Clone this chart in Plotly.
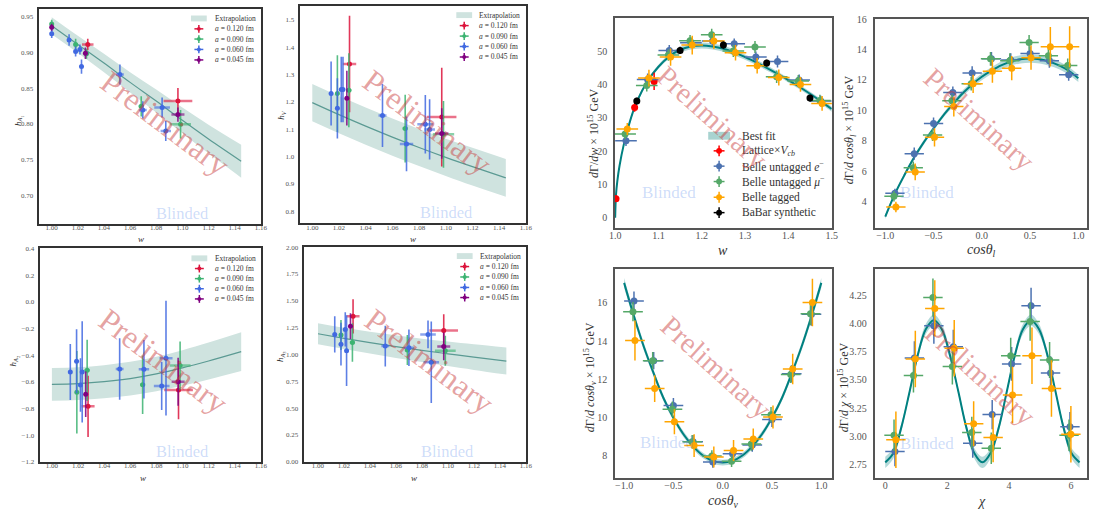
import plotly.graph_objects as go

W, H = 1094, 518
SERIF = "Liberation Serif"

# ================= Lattice form factors (left block) =================
curve_w = [1.00, 1.02, 1.04, 1.06, 1.08, 1.10, 1.12, 1.145]

# ---- h_A1 ----
hA1_fit = [0.937, 0.911, 0.885, 0.858, 0.832, 0.805, 0.779, 0.748]
hA1_fit_err = [0.012, 0.012, 0.013, 0.014, 0.016, 0.018, 0.020, 0.023]
hA1_a120_w = [1.0276, 1.0966]
hA1_a120_y = [0.911, 0.832]
hA1_a120_dy = [0.008, 0.018]
hA1_a120_dw = [0.0044, 0.011]
hA1_a090_w = [1.000, 1.0183, 1.0266, 1.0685, 1.0986]
hA1_a090_y = [0.9395, 0.911, 0.898, 0.8245, 0.7995]
hA1_a090_dy = [0.006, 0.008, 0.007, 0.014, 0.020]
hA1_a090_dw = [0.0, 0.001, 0.002, 0.002, 0.008]
hA1_a060_w = [1.000, 1.0133, 1.0183, 1.0216, 1.0228, 1.0522, 1.0697, 1.0845, 1.0873]
hA1_a060_y = [0.926, 0.917, 0.901, 0.904, 0.880, 0.869, 0.8195, 0.823, 0.790]
hA1_a060_dy = [0.006, 0.008, 0.007, 0.007, 0.010, 0.014, 0.012, 0.014, 0.014]
hA1_a060_dw = [0.0, 0.001, 0.001, 0.001, 0.001, 0.003, 0.003, 0.006, 0.004]
hA1_a045_w = [1.000, 1.0258, 1.0966]
hA1_a045_y = [0.935, 0.8985, 0.813]
hA1_a045_dy = [0.005, 0.008, 0.010]
hA1_a045_dw = [0.0, 0.001, 0.005]

# ---- h_V ----
hV_fit = [1.197, 1.153, 1.111, 1.071, 1.033, 0.997, 0.963, 0.922]
hV_fit_err = [0.068, 0.068, 0.068, 0.068, 0.068, 0.068, 0.069, 0.069]
hV_a120_w = [1.0279, 1.097]
hV_a120_y = [1.338, 1.144]
hV_a120_dy = [0.176, 0.180]
hV_a120_dw = [0.005, 0.011]
hV_a090_w = [1.0188, 1.0274, 1.0696, 1.0983]
hV_a090_y = [1.230, 1.242, 1.102, 1.081]
hV_a090_dy = [0.140, 0.135, 0.124, 0.122]
hV_a090_dw = [0.001, 0.002, 0.002, 0.008]
hV_a060_w = [1.0141, 1.0188, 1.0217, 1.0230, 1.0526, 1.0706, 1.0847, 1.0879]
hV_a060_y = [1.230, 1.176, 1.245, 1.245, 1.150, 1.046, 1.118, 1.099]
hV_a060_dy = [0.117, 0.110, 0.120, 0.120, 0.115, 0.100, 0.107, 0.110]
hV_a060_dw = [0.001, 0.001, 0.001, 0.001, 0.003, 0.005, 0.006, 0.004]
hV_a045_w = [1.0259, 1.097]
hV_a045_y = [1.213, 1.084]
hV_a045_dy = [0.100, 0.092]
hV_a045_dw = [0.001, 0.005]

# ---- h_A2 ----
hA2_fit = [-0.618, -0.612, -0.598, -0.575, -0.540, -0.495, -0.443, -0.373]
hA2_fit_err = [0.123, 0.123, 0.124, 0.126, 0.129, 0.133, 0.138, 0.145]
hA2_a120_w = [1.0277, 1.097]
hA2_a120_y = [-0.783, -0.660]
hA2_a120_dy = [0.23, 0.22]
hA2_a120_dw = [0.005, 0.011]
hA2_a090_w = [1.0191, 1.0270, 1.0695, 1.0982]
hA2_a090_y = [-0.677, -0.513, -0.621, -0.476]
hA2_a090_dy = [0.31, 0.23, 0.22, 0.18]
hA2_a090_dw = [0.001, 0.002, 0.002, 0.008]
hA2_a060_w = [1.0141, 1.0189, 1.0219, 1.0232, 1.0519, 1.0705, 1.0841, 1.0874]
hA2_a060_y = [-0.525, -0.444, -0.623, -0.525, -0.503, -0.505, -0.631, -0.422]
hA2_a060_dy = [0.21, 0.24, 0.20, 0.38, 0.23, 0.22, 0.18, 0.43]
hA2_a060_dw = [0.001, 0.001, 0.001, 0.001, 0.003, 0.004, 0.006, 0.005]
hA2_a045_w = [1.0259, 1.0967]
hA2_a045_y = [-0.692, -0.599]
hA2_a045_dy = [0.17, 0.18]
hA2_a045_dw = [0.001, 0.005]

# ---- h_A3 ----
hA3_fit = [1.193, 1.150, 1.110, 1.073, 1.038, 1.006, 0.975, 0.938]
hA3_fit_err = [0.099, 0.100, 0.102, 0.105, 0.109, 0.114, 0.119, 0.126]
hA3_a120_w = [1.027, 1.0968]
hA3_a120_y = [1.355, 1.224]
hA3_a120_dy = [0.16, 0.15]
hA3_a120_dw = [0.005, 0.011]
hA3_a090_w = [1.0177, 1.0265, 1.0688, 1.098]
hA3_a090_y = [1.181, 1.111, 1.041, 1.035]
hA3_a090_dy = [0.14, 0.18, 0.14, 0.14]
hA3_a090_dw = [0.001, 0.002, 0.002, 0.008]
hA3_a060_w = [1.0129, 1.0177, 1.021, 1.022, 1.0518, 1.070, 1.0847, 1.0872]
hA3_a060_y = [1.187, 1.096, 1.233, 1.035, 1.078, 1.062, 1.187, 0.928]
hA3_a060_dy = [0.17, 0.20, 0.16, 0.33, 0.19, 0.17, 0.13, 0.38]
hA3_a060_dw = [0.001, 0.001, 0.001, 0.001, 0.003, 0.004, 0.006, 0.006]
hA3_a045_w = [1.025, 1.0968]
hA3_a045_y = [1.263, 1.075]
hA3_a045_dy = [0.12, 0.13]
hA3_a045_dw = [0.001, 0.005]

lat_names = ["<i>a</i> = 0.120 fm", "<i>a</i> = 0.090 fm", "<i>a</i> = 0.060 fm", "<i>a</i> = 0.045 fm"]
lat_colors = ["#dc143c", "#3cb371", "#4169e1", "#800080"]

# ================= Differential decay rates (right block) =================
w_fit = [1.0, 1.002, 1.005, 1.01, 1.02, 1.03, 1.04, 1.05, 1.075, 1.1, 1.125, 1.15, 1.175,
         1.2, 1.225, 1.25, 1.275, 1.3, 1.325, 1.35, 1.375, 1.4, 1.425, 1.45, 1.475, 1.5]
dGdw_fit = [0.0, 7.0, 11.0, 15.5, 22.0, 27.0, 31.3, 34.8, 41.0, 45.3, 48.4, 50.4, 51.4,
            51.7, 51.4, 50.7, 49.6, 48.2, 46.7, 45.0, 43.2, 41.3, 39.3, 37.2, 35.0, 32.6]
dGdw_fit_err = [0.0, 0.3, 0.4, 0.5, 0.6, 0.6, 0.6, 0.6, 0.6, 0.6, 0.7, 0.8, 0.9,
                0.9, 0.9, 0.9, 0.9, 0.8, 0.8, 0.8, 0.7, 0.7, 0.7, 0.7, 0.7, 0.8]
w_e = [1.025, 1.075, 1.125, 1.175, 1.225, 1.275, 1.325, 1.375, 1.425, 1.475]
w_mu = [1.023, 1.073, 1.123, 1.173, 1.223, 1.273, 1.323, 1.373, 1.423, 1.473]
w_tag = [1.028, 1.078, 1.128, 1.178, 1.228, 1.278, 1.328, 1.378, 1.428, 1.478]
w_binhalf = [0.025] * 10
dGdw_e = [23.1, 41.5, 50.2, 52.5, 53.0, 52.2, 48.2, 46.9, 41.3, 35.0]
dGdw_e_err = [1.6, 1.8, 1.6, 1.5, 1.5, 1.6, 1.7, 1.8, 1.7, 1.6]
dGdw_mu = [25.1, 39.7, 48.8, 53.1, 54.9, 50.0, 51.2, 42.3, 41.0, 35.2]
dGdw_mu_err = [1.6, 1.8, 1.7, 1.7, 1.8, 1.8, 1.8, 1.9, 1.8, 1.7]
dGdw_tag = [26.6, 41.9, 48.2, 51.8, 53.0, 49.5, 45.6, 42.1, 40.0, 34.3]
dGdw_tag_err = [1.8, 2.5, 2.6, 2.8, 2.4, 2.3, 2.3, 2.4, 2.2, 2.2]
w_lat = [1.002, 1.045, 1.09]
dGdw_lat = [5.7, 33.1, 40.9]
dGdw_lat_err = [1.0, 1.3, 2.6]
w_babar = [1.05, 1.15, 1.25, 1.35, 1.45]
dGdw_babar = [35.0, 50.2, 51.8, 46.4, 35.9]
dGdw_babar_err = [1.0, 1.1, 1.1, 1.0, 1.0]

cos_fit = [-1.0, -0.9, -0.8, -0.7, -0.6, -0.5, -0.4, -0.3, -0.2, -0.1, 0.0,
           0.1, 0.2, 0.3, 0.4, 0.5, 0.6, 0.7, 0.8, 0.9, 1.0]
cos_e = [-0.9, -0.7, -0.5, -0.3, -0.1, 0.1, 0.3, 0.5, 0.7, 0.9]
cos_mu = [-0.91, -0.71, -0.51, -0.31, -0.11, 0.09, 0.29, 0.49, 0.69, 0.89]
cos_tag = [-0.89, -0.69, -0.49, -0.29, -0.09, 0.11, 0.31, 0.51, 0.71, 0.91]
cos_binhalf = [0.1] * 10

dGdcl_fit = [3.0, 4.5, 5.75, 6.9, 7.9, 8.8, 9.65, 10.4, 11.1, 11.7, 12.2,
             12.6, 12.95, 13.2, 13.35, 13.4, 13.35, 13.2, 12.95, 12.6, 12.1]
dGdcl_fit_err = [0.15, 0.15, 0.15, 0.15, 0.15, 0.15, 0.15, 0.18, 0.2, 0.2, 0.22,
                 0.22, 0.25, 0.27, 0.27, 0.27, 0.27, 0.27, 0.25, 0.25, 0.25]
dGdcl_e = [4.54, 7.14, 9.12, 11.16, 12.45, 13.38, 13.30, 13.74, 13.25, 12.34]
dGdcl_e_err = [0.30, 0.40, 0.40, 0.40, 0.45, 0.45, 0.45, 0.45, 0.45, 0.40]
dGdcl_mu = [4.34, 6.22, 8.37, 10.62, 11.74, 13.38, 13.25, 14.45, 13.59, 12.95]
dGdcl_mu_err = [0.35, 0.40, 0.40, 0.40, 0.45, 0.45, 0.50, 0.50, 0.45, 0.45]
dGdcl_tag = [3.63, 5.94, 8.22, 10.24, 11.74, 12.56, 12.77, 13.46, 14.17, 14.17]
dGdcl_tag_err = [0.35, 0.55, 0.60, 0.65, 0.60, 0.75, 0.80, 0.80, 1.30, 1.35]

dGdcv_fit = [17.05, 15.3, 13.7, 12.3, 11.0, 9.98, 9.13, 8.48, 8.0, 7.72, 7.63,
             7.72, 8.0, 8.48, 9.13, 9.98, 11.0, 12.3, 13.7, 15.3, 17.05]
dGdcv_fit_err = [0.25, 0.22, 0.2, 0.18, 0.16, 0.15, 0.15, 0.15, 0.15, 0.15, 0.15,
                 0.15, 0.15, 0.15, 0.15, 0.15, 0.16, 0.18, 0.2, 0.22, 0.25]
dGdcv_e = [16.10, 12.97, 10.62, 8.72, 7.66, 8.09, 8.55, 9.89, 12.28, 15.40]
dGdcv_e_err = [0.50, 0.45, 0.40, 0.35, 0.30, 0.30, 0.35, 0.40, 0.45, 0.60]
dGdcv_mu = [15.54, 12.97, 10.43, 8.72, 7.97, 7.70, 8.60, 10.14, 12.25, 15.43]
dGdcv_mu_err = [0.50, 0.45, 0.40, 0.35, 0.30, 0.30, 0.35, 0.40, 0.45, 0.60]
dGdcv_tag = [14.03, 11.51, 9.77, 8.52, 7.92, 8.26, 8.86, 10.02, 12.54, 16.02]
dGdcv_tag_err = [1.05, 0.70, 0.65, 0.60, 0.55, 0.55, 0.55, 0.60, 0.80, 1.25]

chi_fit = [0.0, 0.26, 0.52, 0.79, 1.05, 1.31, 1.57, 1.83, 2.09, 2.36, 2.62, 2.88, 3.14,
           3.40, 3.67, 3.93, 4.19, 4.45, 4.71, 4.97, 5.24, 5.50, 5.76, 6.02, 6.28]
dGdchi_fit = [2.77, 2.85, 3.08, 3.40, 3.72, 3.95, 4.03, 3.95, 3.72, 3.40, 3.08, 2.85, 2.77,
              2.85, 3.08, 3.40, 3.72, 3.95, 4.03, 3.95, 3.72, 3.40, 3.08, 2.85, 2.77]
dGdchi_fit_err = [0.05, 0.045, 0.035, 0.025, 0.035, 0.045, 0.05, 0.045, 0.035, 0.025, 0.035, 0.045, 0.05,
                  0.045, 0.035, 0.025, 0.035, 0.045, 0.05, 0.045, 0.035, 0.025, 0.035, 0.045, 0.05]
chi_e = [0.314, 0.942, 1.571, 2.199, 2.827, 3.456, 4.084, 4.712, 5.341, 5.969]
chi_mu = [0.284, 0.912, 1.541, 2.169, 2.797, 3.426, 4.054, 4.682, 5.311, 5.939]
chi_tag = [0.344, 0.972, 1.601, 2.229, 2.857, 3.486, 4.114, 4.742, 5.371, 5.999]
chi_binhalf = [0.314] * 10
dGdchi_e = [2.866, 3.694, 3.980, 3.795, 2.940, 3.193, 3.642, 4.157, 3.561, 3.086]
dGdchi_e_err = [0.13, 0.15, 0.16, 0.15, 0.13, 0.13, 0.15, 0.16, 0.15, 0.13]
dGdchi_mu = [3.010, 3.540, 4.230, 3.619, 3.034, 2.895, 3.714, 4.018, 3.677, 3.010]
dGdchi_mu_err = [0.14, 0.15, 0.17, 0.16, 0.14, 0.14, 0.16, 0.17, 0.16, 0.14]
dGdchi_tag = [2.970, 3.685, 4.134, 3.781, 3.112, 2.990, 3.367, 3.714, 3.425, 3.019]
dGdchi_tag_err = [0.25, 0.25, 0.25, 0.25, 0.20, 0.22, 0.25, 0.25, 0.25, 0.25]

C_E, C_MU, C_TAG, C_LAT, C_BAB = "#4c72b0", "#55a868", "#ffa500", "#ff0000", "#000000"
FIT_LINE = "#008080"
FIT_BAND = "rgba(0,128,128,0.30)"
EXT_BAND = "#cfe3df"
EXT_LINE = "#5b9a93"

fig = go.Figure()


def rgba(hexc, a):
    h = hexc.lstrip("#")
    return "rgba(%d,%d,%d,%s)" % (int(h[0:2], 16), int(h[2:4], 16), int(h[4:6], 16), a)


def ids(k):
    s = "" if k == 1 else str(k)
    return "x" + s, "y" + s


def add_band(k, x, c, e, fill, line, lw):
    xa, ya = ids(k)
    lo = [a - b for a, b in zip(c, e)]
    hi = [a + b for a, b in zip(c, e)]
    fig.add_trace(go.Scatter(x=x, y=lo, mode="lines", line=dict(width=0, shape="spline"),
                             xaxis=xa, yaxis=ya, hoverinfo="skip", showlegend=False))
    fig.add_trace(go.Scatter(x=x, y=hi, mode="lines", line=dict(width=0, shape="spline"),
                             fill="tonexty", fillcolor=fill, xaxis=xa, yaxis=ya,
                             hoverinfo="skip", showlegend=False))
    fig.add_trace(go.Scatter(x=x, y=c, mode="lines", line=dict(color=line, width=lw, shape="spline"),
                             xaxis=xa, yaxis=ya, showlegend=False))


def add_pts(k, x, y, dy, dx, color, size, ylw, xlw, xal, yal=1.0):
    xa, ya = ids(k)
    fig.add_trace(go.Scatter(
        x=x, y=y, mode="markers", marker=dict(color=color, size=size, line=dict(width=0)),
        error_y=dict(type="data", array=dy, color=rgba(color, yal), thickness=ylw, width=0),
        error_x=dict(type="data", array=dx, color=rgba(color, xal), thickness=xlw, width=0),
        xaxis=xa, yaxis=ya, showlegend=False))


def setup(k, xpx, ypx, xr, yr, x0, xdt, xfmt, y0, ydt, yfmt, fs, lc, lw, xs, ys):
    s = "" if k == 1 else str(k)
    common = dict(showgrid=False, zeroline=False, showline=True, mirror=True, linecolor=lc,
                  linewidth=lw, ticks="", tickfont=dict(family=SERIF, size=fs, color="#555555"))
    fig.update_layout(**{
        "xaxis" + s: dict(domain=[xpx[0] / W, xpx[1] / W], range=xr, anchor="y" + s, tick0=x0,
                          dtick=xdt, tickformat=xfmt, ticklabelstandoff=xs, **common),
        "yaxis" + s: dict(domain=[1 - ypx[1] / H, 1 - ypx[0] / H], range=yr, anchor="x" + s,
                          tick0=y0, dtick=ydt, tickformat=yfmt, ticklabelstandoff=ys, **common),
    })


def text(xp, yp, t, size, color="#333333", angle=0, xanchor="center", yanchor="middle"):
    fig.add_annotation(x=xp / W, y=1 - yp / H, xref="paper", yref="paper", text=t, showarrow=False,
                       textangle=angle, xanchor=xanchor, yanchor=yanchor,
                       font=dict(family=SERIF, size=size, color=color))


def shape_line(x0, y0, x1, y1, color, w):
    fig.add_shape(type="line", xref="paper", yref="paper", x0=x0 / W, y0=1 - y0 / H,
                  x1=x1 / W, y1=1 - y1 / H, line=dict(color=color, width=w))


def legend(entries, gx, tx, rows, pw, ph, gw, gh, r, fs, lw):
    for (lab, kind, col), ry in zip(entries, rows):
        if kind == "patch":
            fig.add_shape(type="rect", xref="paper", yref="paper", x0=(gx - pw / 2) / W,
                          x1=(gx + pw / 2) / W, y0=1 - (ry + ph / 2) / H, y1=1 - (ry - ph / 2) / H,
                          fillcolor=col, line=dict(width=0))
        else:
            shape_line(gx - gw / 2, ry, gx + gw / 2, ry, col, lw)
            shape_line(gx, ry - gh / 2, gx, ry + gh / 2, col, lw)
            fig.add_shape(type="circle", xref="paper", yref="paper", x0=(gx - r) / W,
                          x1=(gx + r) / W, y0=1 - (ry + r) / H, y1=1 - (ry - r) / H,
                          fillcolor=col, line=dict(width=0))
        text(tx, ry, lab, fs, "#333333", xanchor="left")


# ---------------- left panels ----------------
left = [
    (1, hA1_fit, hA1_fit_err,
     [(hA1_a120_w, hA1_a120_y, hA1_a120_dy, hA1_a120_dw), (hA1_a090_w, hA1_a090_y, hA1_a090_dy, hA1_a090_dw),
      (hA1_a060_w, hA1_a060_y, hA1_a060_dy, hA1_a060_dw), (hA1_a045_w, hA1_a045_y, hA1_a045_dy, hA1_a045_dw)]),
    (2, hV_fit, hV_fit_err,
     [(hV_a120_w, hV_a120_y, hV_a120_dy, hV_a120_dw), (hV_a090_w, hV_a090_y, hV_a090_dy, hV_a090_dw),
      (hV_a060_w, hV_a060_y, hV_a060_dy, hV_a060_dw), (hV_a045_w, hV_a045_y, hV_a045_dy, hV_a045_dw)]),
    (3, hA2_fit, hA2_fit_err,
     [(hA2_a120_w, hA2_a120_y, hA2_a120_dy, hA2_a120_dw), (hA2_a090_w, hA2_a090_y, hA2_a090_dy, hA2_a090_dw),
      (hA2_a060_w, hA2_a060_y, hA2_a060_dy, hA2_a060_dw), (hA2_a045_w, hA2_a045_y, hA2_a045_dy, hA2_a045_dw)]),
    (4, hA3_fit, hA3_fit_err,
     [(hA3_a120_w, hA3_a120_y, hA3_a120_dy, hA3_a120_dw), (hA3_a090_w, hA3_a090_y, hA3_a090_dy, hA3_a090_dw),
      (hA3_a060_w, hA3_a060_y, hA3_a060_dy, hA3_a060_dw), (hA3_a045_w, hA3_a045_y, hA3_a045_dy, hA3_a045_dw)]),
]
for k, fit, fe, series in left:
    add_band(k, curve_w, fit, fe, EXT_BAND, EXT_LINE, 1.2)
    for (x, y, dy, dx), col in zip(series, lat_colors):
        add_pts(k, x, y, dy, dx, col, 5, 1.6, 2.5, 0.6, 0.85)

# ---------------- right panels ----------------
add_band(5, w_fit, dGdw_fit, dGdw_fit_err, FIT_BAND, FIT_LINE, 2)
add_pts(5, w_lat, dGdw_lat, dGdw_lat_err, [0, 0, 0], C_LAT, 7, 1.5, 1.5, 1.0)
add_pts(5, w_e, dGdw_e, dGdw_e_err, w_binhalf, C_E, 7, 1.5, 1.5, 1.0)
add_pts(5, w_mu, dGdw_mu, dGdw_mu_err, w_binhalf, C_MU, 7, 1.5, 1.5, 1.0)
add_pts(5, w_tag, dGdw_tag, dGdw_tag_err, w_binhalf, C_TAG, 7, 1.5, 1.5, 1.0)
add_pts(5, w_babar, dGdw_babar, dGdw_babar_err, [0] * 5, C_BAB, 7, 1.5, 1.5, 1.0)

add_band(6, cos_fit, dGdcl_fit, dGdcl_fit_err, FIT_BAND, FIT_LINE, 2)
add_pts(6, cos_e, dGdcl_e, dGdcl_e_err, cos_binhalf, C_E, 7, 1.5, 1.5, 1.0)
add_pts(6, cos_mu, dGdcl_mu, dGdcl_mu_err, cos_binhalf, C_MU, 7, 1.5, 1.5, 1.0)
add_pts(6, cos_tag, dGdcl_tag, dGdcl_tag_err, cos_binhalf, C_TAG, 7, 1.5, 1.5, 1.0)

add_band(7, cos_fit, dGdcv_fit, dGdcv_fit_err, FIT_BAND, FIT_LINE, 2)
add_pts(7, cos_e, dGdcv_e, dGdcv_e_err, cos_binhalf, C_E, 7, 1.5, 1.5, 1.0)
add_pts(7, cos_mu, dGdcv_mu, dGdcv_mu_err, cos_binhalf, C_MU, 7, 1.5, 1.5, 1.0)
add_pts(7, cos_tag, dGdcv_tag, dGdcv_tag_err, cos_binhalf, C_TAG, 7, 1.5, 1.5, 1.0)

add_band(8, chi_fit, dGdchi_fit, dGdchi_fit_err, FIT_BAND, FIT_LINE, 2)
add_pts(8, chi_e, dGdchi_e, dGdchi_e_err, chi_binhalf, C_E, 7, 1.5, 1.5, 1.0)
add_pts(8, chi_mu, dGdchi_mu, dGdchi_mu_err, chi_binhalf, C_MU, 7, 1.5, 1.5, 1.0)
add_pts(8, chi_tag, dGdchi_tag, dGdchi_tag_err, chi_binhalf, C_TAG, 7, 1.5, 1.5, 1.0)

# ---------------- axes ----------------
LC, RC = "#333333", "#555555"
setup(1, (33, 258), (3, 222), [0.99, 1.1603], [0.6607, 0.9605], 1.0, 0.02, ".2f", 0.7, 0.05, ".2f", 7, LC, 2, -4, 2)
setup(2, (297, 526), (0, 221.7), [0.9906, 1.1603], [0.7556, 1.55], 1.0, 0.02, ".2f", 0.8, 0.1, ".1f", 7, LC, 2, -4, 2)
setup(3, (34, 258), (246.7, 465), [0.9906, 1.1603], [-1.2006, 0.405], 1.0, 0.02, ".2f", -1.2, 0.2, ".1f", 7, LC, 2, -4, 2)
setup(4, (301, 526), (245.5, 465), [0.989, 1.1603], [-0.003, 2.004], 1.0, 0.02, ".2f", 0.0, 0.25, ".2f", 7, LC, 2, -4, 2)
setup(5, (615.7, 835), (12.7, 226.7), [0.9995, 1.5005], [-3.2, 59.8], 1.0, 0.1, ".1f", 0, 10, "d", 10, RC, 1.6, -3, 4)
setup(6, (878.3, 1093), (13.3, 226.7), [-1.11, 1.09], [2.23, 16.0], -1.0, 0.5, ".1f", 4, 2, "d", 10, RC, 1.6, -3, 4)
setup(7, (615.7, 835), (268.3, 481.7), [-1.093, 1.107], [6.8, 17.77], -1.0, 0.5, ".1f", 8, 2, "d", 10, RC, 1.6, -3, 4)
setup(8, (878.3, 1093), (268.3, 481.7), [-0.342, 6.52], [2.628, 4.482], 0, 2, "d", 2.75, 0.25, ".2f", 10, RC, 1.6, -3, 4)

# ---------------- axis titles ----------------
text(137, 238, "<i>w</i>", 9)
text(412, 238, "<i>w</i>", 9)
text(139, 481, "<i>w</i>", 9)
text(413, 481, "<i>w</i>", 9)
text(12.5, 117, "<i>h</i><sub><i>A</i><sub>1</sub></sub>", 9, angle=-90)
text(279, 111, "<i>h</i><sub><i>V</i></sub>", 9, angle=-90)
text(8.5, 362, "<i>h</i><sub><i>A</i><sub>2</sub></sub>", 9, angle=-90)
text(278, 357, "<i>h</i><sub><i>A</i><sub>3</sub></sub>", 9, angle=-90)

text(725, 249, "<i>w</i>", 14)
text(986, 249, "<i>cosθ<sub>l</sub></i>", 14)
text(725, 505, "<i>cosθ<sub>v</sub></i>", 14)
text(986, 505, "<i>χ</i>", 14)
text(594, 130, "<i>d</i>Γ/<i>dw</i> × 10<sup>15</sup> GeV", 12, angle=-90)
text(853, 126, "<i>d</i>Γ/<i>d cosθ<sub>l</sub></i> × 10<sup>15</sup> GeV", 12, angle=-90)
text(591, 379, "<i>d</i>Γ/<i>d cosθ<sub>v</sub></i> × 10<sup>15</sup> GeV", 12, angle=-90)
text(847, 389, "<i>d</i>Γ/<i>d χ</i> × 10<sup>15</sup> GeV", 12, angle=-90)

# ---------------- legends ----------------
lat_entries = [("Extrapolation", "patch", EXT_BAND)] + [(n, "pt", c) for n, c in zip(lat_names, lat_colors)]
legend(lat_entries, 195, 209, [12.7, 23.3, 33.7, 44.3, 55.0], 16, 6, 9, 8, 2, 7.5, 1.5)
legend(lat_entries, 463.3, 476.7, [9.3, 20.0, 30.7, 41.3, 52.0], 16, 6, 9, 8, 2, 7.5, 1.5)
legend(lat_entries, 195.5, 209.3, [257.3, 267.7, 278.0, 288.3, 298.7], 16, 6, 9, 8, 2, 7.5, 1.5)
legend(lat_entries, 463.8, 477.3, [255.0, 265.7, 276.3, 287.0, 297.3], 16, 6, 9, 8, 2, 7.5, 1.5)
rate_entries = [("Best fit", "patch", "#a8d3d0"), ("Lattice×<i>V<sub>cb</sub></i>", "pt", C_LAT),
                ("Belle untagged <i>e</i><sup>−</sup>", "pt", C_E),
                ("Belle untagged <i>μ</i><sup>−</sup>", "pt", C_MU),
                ("Belle tagged", "pt", C_TAG), ("BaBar synthetic", "pt", C_BAB)]
legend(rate_entries, 721, 741.7, [132.3, 147.7, 163.3, 179.0, 195.0, 210.7], 22, 8, 11, 11, 3, 11.5, 1.5)

# ---------------- watermarks ----------------
PRE = "rgba(200,60,60,0.48)"
BLI = "rgba(90,140,235,0.30)"
for cx, cy in [(161, 119), (426, 118), (159, 362), (428, 362)]:
    text(cx, cy, "Preliminary", 32, PRE, angle=37)
for cx, cy in [(714, 113), (984, 115), (718, 368), (985, 375)]:
    text(cx, cy, "Preliminary", 29, PRE, angle=42)
for cx, cy in [(178, 212), (445, 211), (178, 454), (446, 454)]:
    text(cx, cy, "Blinded", 16.5, BLI)
for cx, cy in [(670, 190), (931, 190), (668, 445), (931, 446)]:
    text(cx, cy, "Blinded", 17, BLI)

fig.update_layout(width=W, height=H, margin=dict(l=0, r=0, t=0, b=0), showlegend=False,
                  paper_bgcolor="white", plot_bgcolor="white", font=dict(family=SERIF))

fig.write_html("out.html", config={"displayModeBar": False},
               post_script="document.body.style.margin='0';document.body.style.overflow='hidden';")
